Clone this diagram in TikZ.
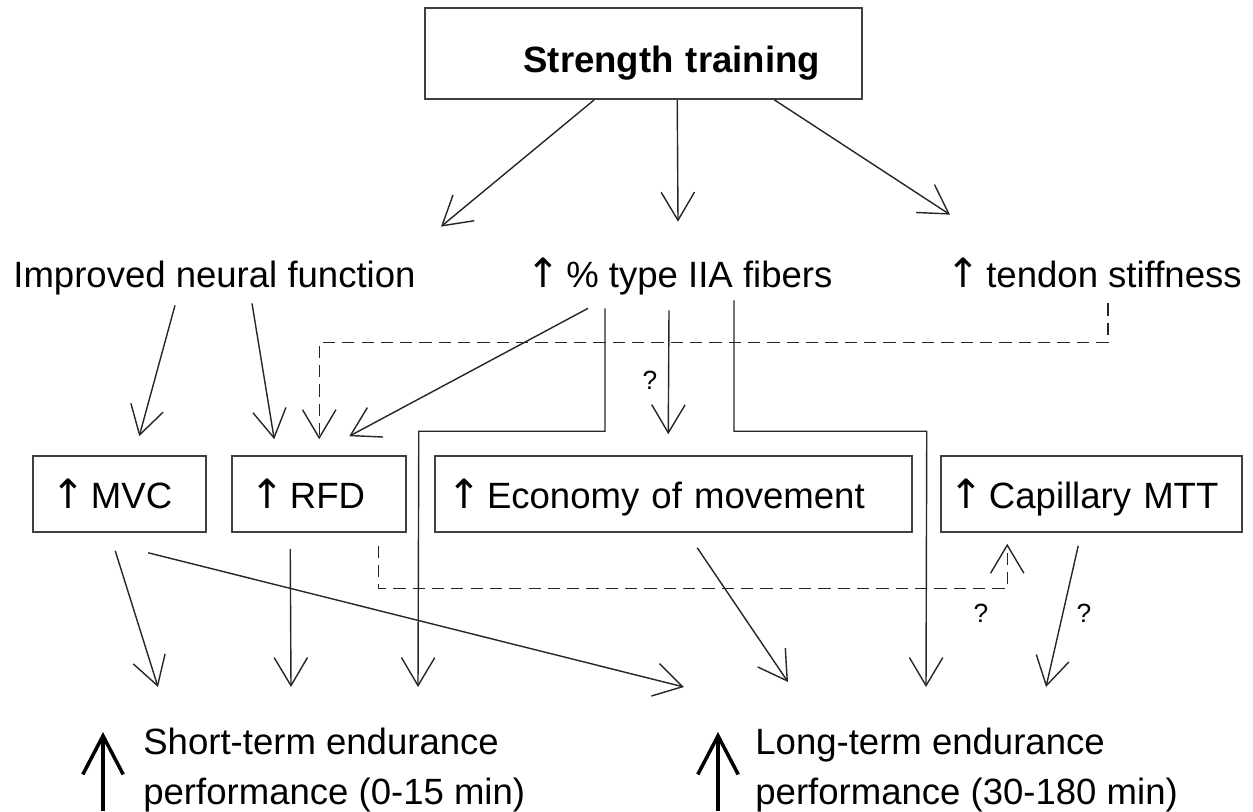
\documentclass[tikz,border=0pt]{standalone}
\usepackage{fontspec}
\setmainfont{Liberation Sans}
\newfontfamily\arrowfont{DejaVu Sans}
\newcommand{\upar}{{\arrowfont\fontsize{23}{27}\selectfont ↑}}
\usetikzlibrary{arrows.meta,calc}

\begin{document}
\begin{tikzpicture}[x=0.02cm,y=-0.02cm,
        txt/.style={font=\fontsize{20.8}{28}\selectfont},
        lbl/.style={txt,inner sep=0,anchor=base west,text height=0.56cm,text depth=0.16cm},
        bx/.style={txt,draw=boxGray,line width=0.9pt,minimum height=1.52cm,inner ysep=0,text height=0.6cm,text depth=0.04cm,align=left},
        qmark/.style={font=\fontsize{15}{18}\selectfont,inner sep=0},
        arr/.style={draw=lineGray,line width=0.8pt,-{Straight Barb[length=16pt,width=19pt]}},
        dsh/.style={arr,dash pattern=on 7pt off 4pt},
        bigarr/.style={draw=black,line width=2pt,-{Straight Barb[length=22pt,width=23pt]}}]
            \colorlet{lineGray}{black!85}
            \colorlet{boxGray}{black!75}
            \useasboundingbox (0,0) rectangle (1253,811);

            \node[bx,font=\fontsize{20.8}{28}\selectfont\bfseries,align=right,inner xsep=0.84cm,text width=7.06cm,minimum height=1.82cm,text height=0.9cm,text depth=0.12cm] (train) at (643.5,53.5) {Strength training};

            \node[lbl] (neural) at (13,287) {Improved neural function};
            \node[lbl] (fibers) at (526,287) {\upar\,\% type IIA fibers};
            \node[lbl] (tendon) at (946,287) {\upar\,tendon stiffness};

            \node[bx,inner xsep=0.36cm,text width=2.74cm] (mvc) at (119.5,494) {\upar\,MVC};
            \node[bx,inner xsep=0.36cm,text width=2.76cm] (rfd) at (319,494) {\upar\,RFD};
            \node[bx,inner xsep=0.24cm,text width=9.06cm] (econ) at (673.5,494) {\upar\,Economy of movement};
            \node[bx,inner xsep=0.16cm,text width=5.7cm] (cap) at (1091.5,494) {\upar\,Capillary MTT};

            \node[txt,inner sep=0,anchor=north west,align=left] (short) at (143,728) {Short-term endurance\\performance (0-15 min)};
            \node[txt,inner sep=0,anchor=north west,align=left] (long) at (755,728) {Long-term endurance\\performance (30-180 min)};

            \node[qmark] (q1) at (650,380) {?};
            \node[qmark] (q2) at (981,613) {?};
            \node[qmark] (q3) at (1084,613) {?};

            \draw[arr] ($(train.south west)+(170,0)$) -- ($(neural.north east)+(25,-32)$);
            \draw[arr] ($(train.south west)+(253,0)$) -- ($(fibers.north west)+(152,-37)$);
            \draw[arr] ($(train.south west)+(350,0)$) -- ($(tendon.north west)+(4,-44)$);

            \draw[arr] ($(neural.south west)+(162,10)$) -- ($(mvc.north west)+(107,-19)$);
            \draw[arr] ($(neural.south west)+(239,8)$) -- ($(rfd.north west)+(43,-16)$);
            \draw[dsh] ($(tendon.south west)+(162,8)$) |- ($(rfd.north west)+(88,-113)$) -- ($(rfd.north west)+(88,-16)$);
            \draw[arr] ($(fibers.south west)+(62,13)$) -- ($(rfd.north west)+(118,-19)$);
            \draw[arr] ($(fibers.south west)+(79,13)$) |- ($(rfd.north east)+(12,-24)$) -- ($(short.north west)+(275,-41)$);
            \draw[arr] ($(fibers.south west)+(143,15)$) -- ($(econ.north west)+(234,-21)$);
            \draw[arr] ($(fibers.south west)+(208,5)$) |- ($(econ.north east)+(14,-24)$) -- ($(long.north west)+(171,-41)$);

            \draw[arr] ($(mvc.south west)+(83,18)$) -- ($(short.north west)+(15,-41)$);
            \draw[arr] ($(mvc.south west)+(116,20)$) -- ($(long.north west)+(-71,-41)$);
            \draw[arr] ($(rfd.south west)+(59,16)$) -- ($(short.north west)+(148,-41)$);
            \draw[dsh] ($(rfd.south west)+(147,13)$) |- ($(cap.south west)+(67,56)$) -- ($(cap.south west)+(67,11)$);
            \draw[arr] ($(econ.south west)+(263,15)$) -- ($(long.north west)+(33,-46)$);
            \draw[arr] ($(cap.south west)+(138,13)$) -- ($(long.north west)+(291,-41)$);

            \draw[bigarr] ($(short.north west)+(-40,83)$) -- ($(short.north west)+(-40,4)$);
            \draw[bigarr] ($(long.north west)+(-37,83)$) -- ($(long.north west)+(-37,4)$);
        \end{tikzpicture}
\end{document}
